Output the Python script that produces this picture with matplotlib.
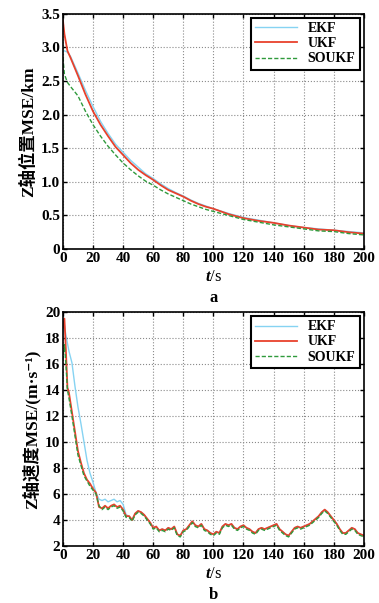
import numpy as np
import matplotlib.pyplot as plt
from matplotlib.ticker import FixedLocator, FixedFormatter

plt.rcParams["font.family"] = ["Liberation Serif", "Noto Sans CJK SC", "DejaVu Sans"]
plt.rcParams["font.weight"] = "bold"
plt.rcParams["mathtext.fontset"] = "custom"
plt.rcParams["mathtext.it"] = "Liberation Serif:italic:bold"
plt.rcParams["mathtext.rm"] = "Liberation Serif:bold"

# (a) Z轴位置 MSE
t_pos = [0, 1, 3, 5, 10, 15, 20, 25, 30, 35, 40, 45, 50, 55, 60, 65, 70, 75, 80,
         85, 90, 95, 100, 110, 120, 130, 140, 150, 160, 170, 180, 190, 200]
ekf_pos = [2.95, 2.95, 2.93, 2.87, 2.62, 2.36, 2.12, 1.90, 1.72, 1.56, 1.44, 1.32,
           1.22, 1.12, 1.05, 0.97, 0.90, 0.84, 0.79, 0.73, 0.68, 0.64, 0.60, 0.53,
           0.47, 0.43, 0.39, 0.35, 0.32, 0.30, 0.28, 0.26, 0.24]
ukf_pos = [3.40, 3.20, 2.95, 2.85, 2.58, 2.30, 2.05, 1.85, 1.68, 1.52, 1.40, 1.28,
           1.18, 1.10, 1.03, 0.95, 0.88, 0.83, 0.78, 0.72, 0.67, 0.63, 0.60, 0.52,
           0.46, 0.42, 0.39, 0.35, 0.32, 0.29, 0.28, 0.25, 0.23]
soukf_pos = [2.85, 2.60, 2.48, 2.42, 2.28, 2.05, 1.85, 1.68, 1.53, 1.40, 1.28, 1.18,
             1.09, 1.01, 0.95, 0.88, 0.82, 0.77, 0.72, 0.67, 0.63, 0.59, 0.56, 0.50,
             0.44, 0.40, 0.36, 0.33, 0.30, 0.27, 0.26, 0.23, 0.21]

# (b) Z轴速度 MSE
t_vel = [0, 1, 2, 3] + list(range(4, 201, 2))
ekf_vel = [18.2, 19.0, 18.2, 17.6, 17.0, 16.1, 14.3, 12.7, 11.4, 10.0, 8.6, 7.6,
           6.9, 6.1, 5.6, 5.5, 5.6, 5.4, 5.5, 5.6, 5.4, 5.5, 5.2, 4.4,
           4.3, 4.0, 4.5, 4.7, 4.6, 4.4, 4.1, 3.8, 3.4, 3.5, 3.2, 3.3,
           3.2, 3.4, 3.3, 3.5, 2.9, 2.8, 3.2, 3.3, 3.6, 3.9, 3.6, 3.5,
           3.7, 3.3, 3.2, 3.0, 2.9, 3.1, 3.0, 3.5, 3.7, 3.6, 3.7, 3.4,
           3.3, 3.5, 3.6, 3.4, 3.3, 3.1, 3.0, 3.3, 3.4, 3.3, 3.4, 3.5,
           3.6, 3.7, 3.3, 3.1, 2.9, 2.8, 3.1, 3.4, 3.5, 3.4, 3.5, 3.6,
           3.7, 3.9, 4.1, 4.3, 4.6, 4.8, 4.6, 4.3, 4.0, 3.7, 3.3, 3.0,
           3.0, 3.2, 3.4, 3.3, 3.0, 2.9, 2.8]
ukf_vel = [18.8, 19.5, 17.0, 14.2, 13.8, 12.3, 10.8, 9.3, 8.4, 7.6, 7.1, 6.8,
           6.4, 6.1, 5.0, 4.9, 5.1, 4.9, 5.1, 5.2, 5.0, 5.1, 4.8, 4.3,
           4.3, 4.0, 4.5, 4.7, 4.6, 4.4, 4.1, 3.8, 3.4, 3.5, 3.2, 3.3,
           3.2, 3.4, 3.3, 3.5, 2.9, 2.8, 3.2, 3.3, 3.6, 3.9, 3.6, 3.5,
           3.7, 3.3, 3.2, 3.0, 2.9, 3.1, 3.0, 3.5, 3.7, 3.6, 3.7, 3.4,
           3.3, 3.5, 3.6, 3.4, 3.3, 3.1, 3.0, 3.3, 3.4, 3.3, 3.4, 3.5,
           3.6, 3.7, 3.3, 3.1, 2.9, 2.8, 3.1, 3.4, 3.5, 3.4, 3.5, 3.6,
           3.7, 3.9, 4.1, 4.3, 4.6, 4.8, 4.6, 4.3, 4.0, 3.7, 3.3, 3.0,
           3.0, 3.2, 3.4, 3.3, 3.0, 2.9, 2.8]
soukf_vel = [16.3, 17.5, 16.0, 14.0, 13.4, 12.0, 10.5, 9.0, 8.2, 7.4, 7.0, 6.6,
             6.3, 6.0, 5.1, 4.8, 5.0, 4.8, 5.0, 5.1, 4.9, 5.0, 4.7, 4.2,
             4.2, 3.9, 4.4, 4.6, 4.5, 4.3, 4.0, 3.7, 3.3, 3.4, 3.1, 3.2,
             3.1, 3.3, 3.2, 3.4, 2.8, 2.7, 3.1, 3.2, 3.5, 3.8, 3.5, 3.4,
             3.6, 3.2, 3.1, 2.9, 2.8, 3.0, 2.9, 3.4, 3.6, 3.5, 3.6, 3.3,
             3.2, 3.4, 3.5, 3.3, 3.2, 3.0, 2.9, 3.2, 3.3, 3.2, 3.3, 3.4,
             3.5, 3.6, 3.2, 3.0, 2.8, 2.7, 3.0, 3.3, 3.4, 3.3, 3.4, 3.5,
             3.6, 3.8, 4.0, 4.2, 4.5, 4.7, 4.5, 4.2, 3.9, 3.6, 3.2, 2.9,
             2.9, 3.1, 3.3, 3.2, 2.9, 2.8, 2.7]

xticks = list(range(0, 201, 20))
pos_ticks = [0, 0.5, 1.0, 1.5, 2.0, 2.5, 3.0, 3.5]
pos_labels = ["0", "0.5", "1.0", "1.5", "2.0", "2.5", "3.0", "3.5"]
vel_ticks = list(range(2, 21, 2))

C_EKF, C_UKF, C_SO = "#86d3f2", "#e8412c", "#2f9a3c"

fig = plt.figure(figsize=(3.79, 6.03), dpi=100)
ax1 = fig.add_axes([0.166, 0.587, 0.794, 0.390])
ax2 = fig.add_axes([0.166, 0.0945, 0.794, 0.388])


def style(ax, yt, ylabels, ylim):
    ax.set_xlim(0, 200)
    ax.set_ylim(*ylim)
    ax.xaxis.set_major_locator(FixedLocator(xticks))
    ax.yaxis.set_major_locator(FixedLocator(yt))
    ax.yaxis.set_major_formatter(FixedFormatter(ylabels))
    ax.grid(True, linestyle=":", color="#8a8a8a", linewidth=0.8)
    ax.tick_params(direction="in", top=True, right=True, length=3,
                   labelsize=11, pad=2, width=1)
    for lab in ax.get_xticklabels() + ax.get_yticklabels():
        lab.set_fontweight("bold")
    for sp in ax.spines.values():
        sp.set_linewidth(1.2)
    leg = ax.legend(loc="upper right", fancybox=False, framealpha=1,
                    edgecolor="black", prop={"weight": "bold", "size": 10},
                    handlelength=3.0, borderpad=0.3, labelspacing=0.15,
                    handletextpad=0.8, borderaxespad=0.3)
    leg.get_frame().set_linewidth(1.5)
    ax.set_xlabel("$t$/s", fontsize=12, labelpad=3)


ax1.plot(t_pos, ekf_pos, color=C_EKF, lw=1.0, label="EKF")
ax1.plot(t_pos, ukf_pos, color=C_UKF, lw=1.3, label="UKF")
ax1.plot(t_pos, soukf_pos, color=C_SO, lw=1.0, ls="--", dashes=(3, 1.5), label="SOUKF")
style(ax1, pos_ticks, pos_labels, (0, 3.5))
ax1.set_ylabel("Z轴位置MSE/km", fontsize=12.5, labelpad=3, fontweight="bold")

ax2.plot(t_vel, ekf_vel, color=C_EKF, lw=1.0, label="EKF")
ax2.plot(t_vel, ukf_vel, color=C_UKF, lw=1.3, label="UKF")
ax2.plot(t_vel, soukf_vel, color=C_SO, lw=1.0, ls="--", dashes=(3, 1.5), label="SOUKF")
style(ax2, vel_ticks, [str(v) for v in vel_ticks], (2, 20))
ax2.set_ylabel("Z轴速度MSE/(m·s⁻¹)", fontsize=12.5, labelpad=3, fontweight="bold")

fig.text(0.563, 0.505, "a", ha="center", va="center", fontsize=12, fontweight="bold")
fig.text(0.563, 0.014, "b", ha="center", va="center", fontsize=12, fontweight="bold")

fig.savefig("out.png", dpi=100)
